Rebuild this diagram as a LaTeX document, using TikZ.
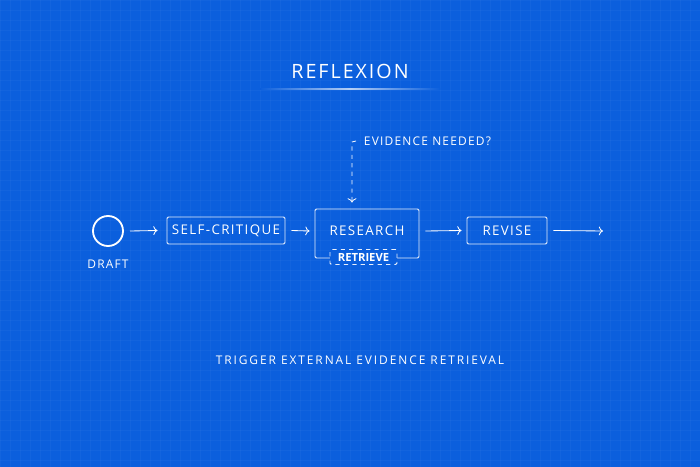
\documentclass[tikz,border=0pt]{standalone}
\usepackage{fontspec}
\setsansfont{Open Sans}
\newfontfamily\capsfont[LetterSpace=10]{Open Sans}
\newfontfamily\widefont[LetterSpace=16]{Open Sans}
\usetikzlibrary{calc,positioning,arrows.meta}
\definecolor{bpblue}{HTML}{0B5FDD}
\definecolor{bpgrid}{HTML}{2A74E4}
\tikzset{
  box/.style={draw=white!90!bpblue,line width=0.7pt,rounded corners=1pt,
    text=white,font=\capsfont\fontsize{9.5}{11}\selectfont,inner sep=0pt},
  link/.style={draw=white,line width=0.6pt,-{To[length=3pt]}},
  caption/.style={text=white,font=\capsfont\fontsize{8.5}{10}\selectfont}
}
\begin{document}
\begin{tikzpicture}[x=0.025cm,y=-0.025cm]
  \fill[bpblue] (0,0) rectangle (700,467);
  \useasboundingbox (0,0) rectangle (700,467);
  % faint grid
  \foreach \i in {0,10,...,700} {
    \draw[bpgrid,line width=0.2pt,opacity=0.25] (\i,0) -- (\i,467);
  }
  \foreach \j in {0,10,...,467} {
    \draw[bpgrid,line width=0.2pt,opacity=0.25] (0,\j) -- (700,\j);
  }
  % title
  \node[text=white,font=\capsfont\fontsize{14}{16}\selectfont] (title) at (350,71) {REFLEXION};
  \shade[left color=bpblue,right color=bpblue,middle color=white!70!bpblue]
    (260,88.6) rectangle (440,89.4);
  % flow
  \draw[white,line width=1.3pt] (108,231) circle (15);
  \coordinate (draft) at (108,231);
  \node[caption] (draftlabel) at (108,264) {DRAFT};
  \node[box,minimum width=118*0.025cm,minimum height=27*0.025cm] (critique) at (226,230.5) {SELF-CRITIQUE};
  \node[box,minimum width=104*0.025cm,minimum height=49*0.025cm] (research) at (367,233.5) {};
  \node[text=white,font=\capsfont\fontsize{9.5}{11}\selectfont] (researchlabel) at (367,231) {RESEARCH};
  \node[box,dashed,fill=bpblue,minimum width=67*0.025cm,minimum height=15*0.025cm,
    font=\sffamily\bfseries\fontsize{8}{9}\selectfont] (retrieve) at (363.5,257) {RETRIEVE};
  \node[box,minimum width=80*0.025cm,minimum height=27*0.025cm] (revise) at (507,230.5) {REVISE};
  \coordinate (out) at (603,231);
  \draw[link] ($(draft)+(22,0)$) -- ($(critique.west)+(-9,0)$);
  \draw[link] ($(critique.east)+(6,0)$) -- ($(research.west)+(-5,-2.5)$);
  \draw[link] ($(research.east)+(6,-2.5)$) -- ($(revise.west)+(-5,0)$);
  \draw[link] ($(revise.east)+(6,0)$) -- (out);
  % evidence check
  \node[caption,anchor=west] (evidence) at (359,141) {EVIDENCE NEEDED?};
  \draw[link,dashed] ($(evidence.west)+(-3,0)$) -- ++(-4,1) -- ($(research.north)+(-15,-6)$);
  % footer
  \node[text=white,font=\widefont\fontsize{8.5}{10}\selectfont] (footer) at (360,360) {TRIGGER EXTERNAL EVIDENCE RETRIEVAL};
\end{tikzpicture}
\end{document}
